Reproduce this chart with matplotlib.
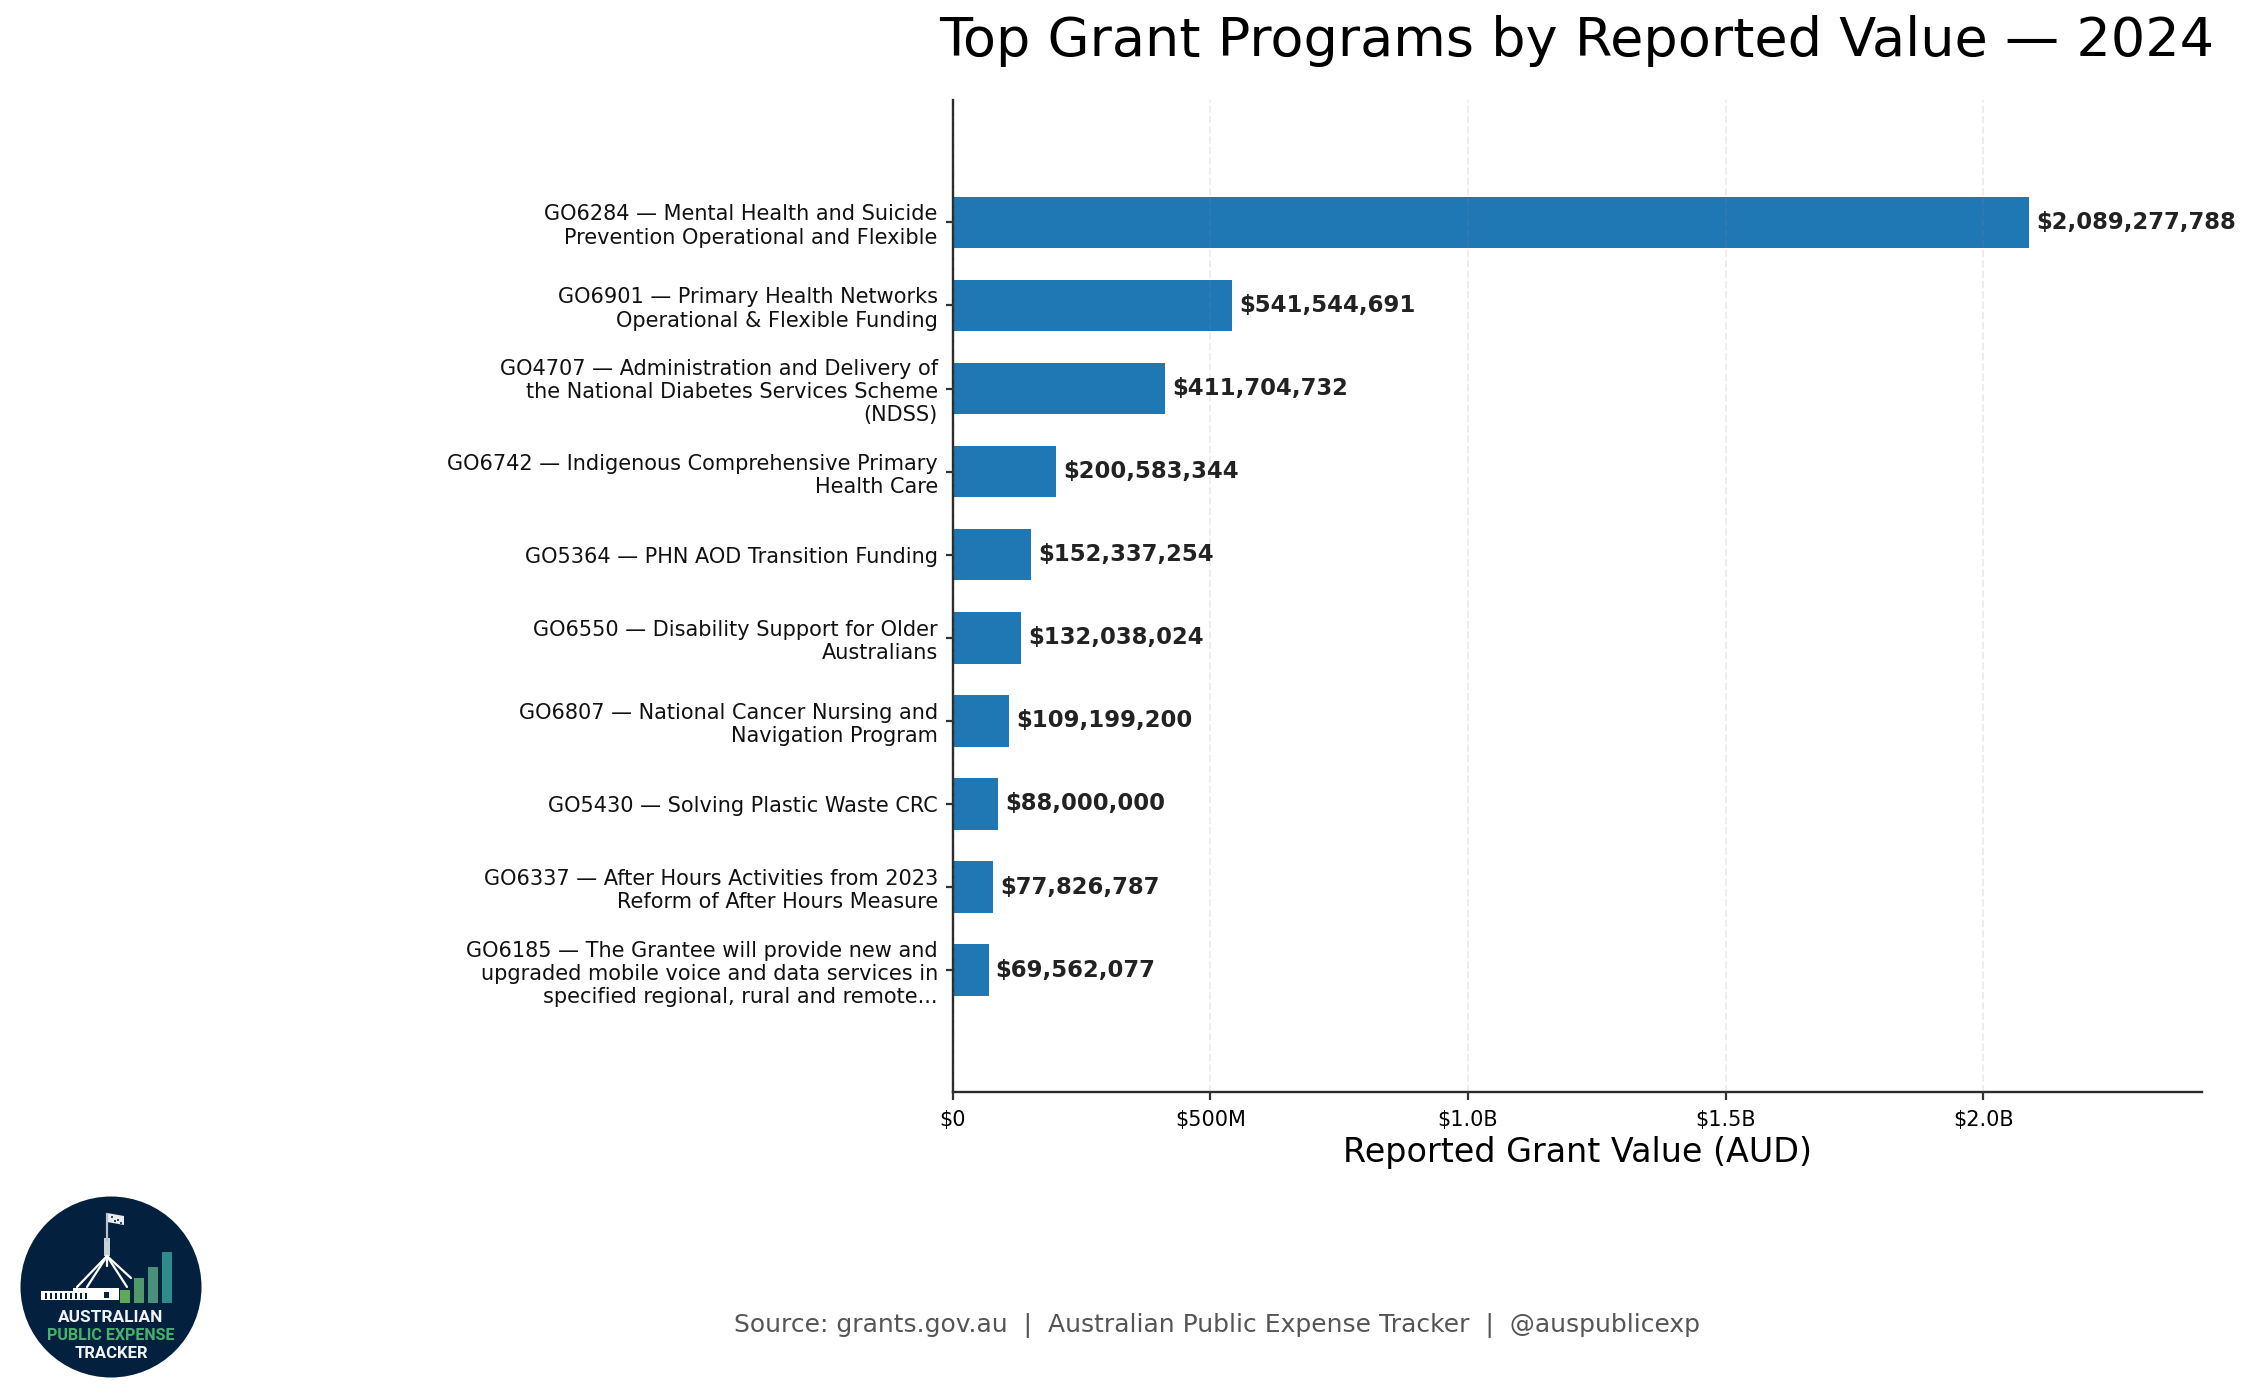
import matplotlib
matplotlib.use("Agg")
import matplotlib.pyplot as plt
from matplotlib.patches import Circle, Rectangle, Polygon

W, H = 2251, 1399
labels = [
    "GO6284 — Mental Health and Suicide\nPrevention Operational and Flexible",
    "GO6901 — Primary Health Networks\nOperational & Flexible Funding",
    "GO4707 — Administration and Delivery of\nthe National Diabetes Services Scheme\n(NDSS)",
    "GO6742 — Indigenous Comprehensive Primary\nHealth Care",
    "GO5364 — PHN AOD Transition Funding",
    "GO6550 — Disability Support for Older\nAustralians",
    "GO6807 — National Cancer Nursing and\nNavigation Program",
    "GO5430 — Solving Plastic Waste CRC",
    "GO6337 — After Hours Activities from 2023\nReform of After Hours Measure",
    "GO6185 — The Grantee will provide new and\nupgraded mobile voice and data services in\nspecified regional, rural and remote...",
]
values = [2089277788, 541544691, 411704732, 200583344, 152337254,
          132038024, 109199200, 88000000, 77826787, 69562077]
tick_values = [0, 5e8, 1e9, 1.5e9, 2e9]
tick_labels = ["$0", "$500M", "$1.0B", "$1.5B", "$2.0B"]

fig = plt.figure(figsize=(W / 200, H / 200), dpi=200, facecolor="white")
ax = fig.add_axes([952.8 / W, 1 - 1092 / H, (2201.5 - 952.8) / W, (1092 - 100) / H])
positions = list(range(len(values)))
ax.barh(positions, values, height=0.62, color="#1f77b4", zorder=2)
ax.set_ylim(len(values) - 1 + 1.467, -1.473)
ax.set_xlim(0, 2.4236e9)
ax.set_yticks(positions)
ax.set_yticklabels(labels, fontsize=7.5, color="#111111", linespacing=1.2)
ax.set_xticks(tick_values)
ax.set_xticklabels(tick_labels, fontsize=7.5)
ax.tick_params(axis="y", length=2.7, width=0.8, color="#333333", pad=2.7)
ax.tick_params(axis="x", length=2.7, width=0.8, color="#333333", pad=3.8)
ax.set_xlabel("Reported Grant Value (AUD)", fontsize=12, labelpad=2.2)
ax.grid(axis="x", linestyle="--", color="#888888", alpha=0.15, linewidth=0.7, zorder=3)
ax.set_axisbelow(False)
for s in ("top", "right"):
    ax.spines[s].set_visible(False)
for s in ("left", "bottom"):
    ax.spines[s].set_color("#2a2a2a")
    ax.spines[s].set_linewidth(0.85)
for y, v in zip(positions, values):
    ax.annotate(f"${v:,.0f}", (v, y), xytext=(2.5, 0), textcoords="offset points",
                va="center", ha="left", fontsize=8.2, fontweight="bold", color="#222222")
fig.text(2214.5 / W, 1 - 41 / H, "Top Grant Programs by Reported Value — 2024",
         fontsize=19.5, ha="right", va="center", color="black")
fig.text(1217.5 / W, 1 - 1325 / H,
         "Source: grants.gov.au  |  Australian Public Expense Tracker  |  @auspublicexp",
         fontsize=9, ha="center", va="center", color="#555555")

# Logo, in pixel coordinates of the figure
lg = fig.add_axes([0, 0, 1, 1], facecolor="none")
lg.set_xlim(0, W)
lg.set_ylim(H, 0)
lg.axis("off")
cx, cy, r = 111, 1287, 90.5
navy = "#04203f"
lg.add_patch(Circle((cx, cy), r, color=navy, lw=0))
for x, top, c in [(120, 1290, "#5fa85a"), (133.5, 1278, "#4f9a68"), (147.5, 1267, "#47907a"), (161.5, 1252, "#2f8a8c")]:
    lg.add_patch(Rectangle((x, top), 10, 1303 - top, color=c, lw=0))
lg.add_patch(Rectangle((41, 1291), 78, 9, color="white", lw=0))
lg.add_patch(Rectangle((73, 1288), 46, 12, color="white", lw=0))
for x in range(45, 90, 5):
    lg.add_patch(Rectangle((x, 1293), 2.2, 6, color=navy, lw=0))
lg.add_patch(Rectangle((104, 1292), 5, 6, color=navy, lw=0))
for x, y in [(77, 1287), (87, 1287), (127, 1287), (131, 1278), (107, 1266)]:
    lg.plot([107, x], [1256, y], color="white", lw=0.8, solid_capstyle="round")
lg.add_patch(Rectangle((104, 1238), 6, 18, color="#c8d0d8", lw=0))
lg.plot([107, 107], [1214, 1240], color="#b8c0c8", lw=0.8)
lg.add_patch(Polygon([(107, 1213), (124, 1216), (124, 1225), (107, 1222)], color="#e8ecef", lw=0))
for x, y in [(112, 1217), (118, 1220), (121, 1223), (115, 1221)]:
    lg.add_patch(Circle((x, y), 1, color=navy, lw=0))
lg.text(111, 1318, "AUSTRALIAN", fontsize=6.2, fontweight="bold", color="#f0f2f4", ha="center", va="center", family="Roboto")
lg.text(111, 1336, "PUBLIC EXPENSE", fontsize=5.75, fontweight="bold", color="#45b36b", ha="center", va="center", family="Roboto")
lg.text(111, 1353, "TRACKER", fontsize=6.0, fontweight="bold", color="#f0f2f4", ha="center", va="center", family="Roboto")

fig.savefig("out.png", dpi=200, facecolor="white")
